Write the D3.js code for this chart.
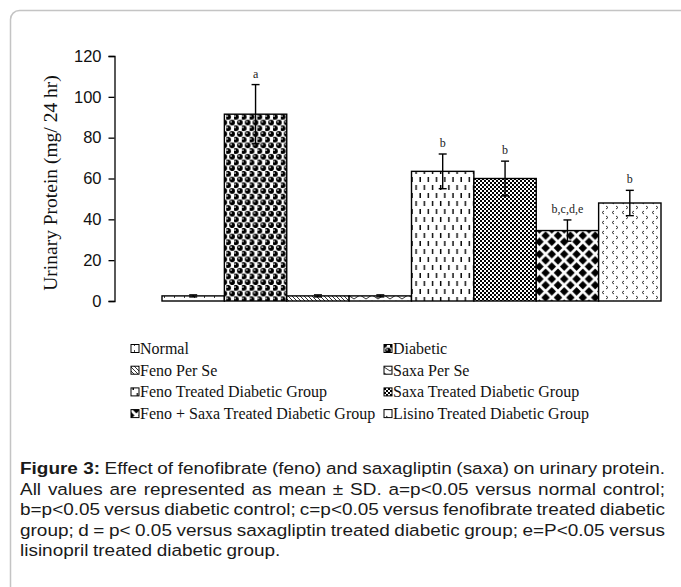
<!DOCTYPE html>
<html>
<head>
<meta charset="utf-8">
<script src="https://cdn.jsdelivr.net/npm/d3@7"></script>
<style>
  body { margin: 0; background: #fff; }
  svg { display: block; }
</style>
</head>
<body>
<svg width="681" height="587"></svg>
<script>
// Data
let groups = ["Normal", "Diabetic", "Feno Per Se", "Saxa Per Se",
  "Feno Treated Diabetic Group", "Saxa Treated Diabetic Group",
  "Feno + Saxa Treated Diabetic Group", "Lisino Treated Diabetic Group"];
let means = [2.5, 91.5, 2.5, 2.5, 63.5, 60, 34.5, 48];
let sds = [0.5, 14.5, 0.5, 0.5, 8.5, 8.5, 5.2, 6.2];
let marks = ["", "a", "", "", "b", "b", "b,c,d,e", "b"];
let yTicks = [0, 20, 40, 60, 80, 100, 120];
let caption = [
  "Effect of fenofibrate (feno) and saxagliptin (saxa) on urinary protein.",
  "All values are represented as mean ± SD. a=p<0.05 versus normal control;",
  "b=p<0.05 versus diabetic control; c=p<0.05 versus fenofibrate treated diabetic",
  "group; d = p< 0.05 versus saxagliptin treated diabetic group; e=P<0.05 versus",
  "lisinopril treated diabetic group."
];

let svg = d3.select("svg");

// Frame
svg.append("rect")
  .attr("x", 10.5).attr("y", 10.5)
  .attr("width", 700).attr("height", 620)
  .attr("rx", 9)
  .attr("fill", "#fff")
  .attr("stroke", "#c4c4c4")
  .attr("stroke-width", 1.5);

// Patterns
let defs = svg.append("defs");
function pattern(id, w, h) {
  let p = defs.append("pattern")
    .attr("id", id)
    .attr("patternUnits", "userSpaceOnUse")
    .attr("width", w).attr("height", h);
  p.append("rect").attr("width", w).attr("height", h).attr("fill", "#fff");
  return p;
}

// normal: sparse tiny ticks
let p0 = pattern("p0", 10, 6);
p0.append("rect").attr("x", 4).attr("y", 2).attr("width", 1).attr("height", 2).attr("fill", "#444");

// diabetic: black spheres
let p1 = pattern("p1", 7.8, 11.4);
[[1.95, 2.85], [5.85, 8.55], [-1.95, 8.55], [9.75, 8.55]].forEach(c => {
  p1.append("circle").attr("cx", c[0]).attr("cy", c[1]).attr("r", 2.9).attr("fill", "#000");
  p1.append("circle").attr("cx", c[0] - 0.9).attr("cy", c[1] - 0.9).attr("r", 0.8).attr("fill", "#fff");
});

// feno per se: diagonal hatch
let p2 = pattern("p2", 4, 4);
p2.append("path").attr("d", "M-1,-1L5,5M-1,3L1,5M3,-1L5,1").attr("stroke", "#000").attr("stroke-width", 0.8);

// saxa per se: zigzag
let p3 = pattern("p3", 12, 6);
p3.append("path").attr("d", "M0,1L6,5L12,1").attr("fill", "none").attr("stroke", "#000").attr("stroke-width", 0.8);

// feno treated: vertical dashes
let p4 = pattern("p4", 8.2, 16);
p4.append("path").attr("d", "M2,1V6M6.1,9V14").attr("stroke", "#000").attr("stroke-width", 1.4);

// saxa treated: fine checker
let p5 = pattern("p5", 4, 4);
p5.append("rect").attr("x", 0).attr("y", 0).attr("width", 2).attr("height", 2).attr("fill", "#000");
p5.append("rect").attr("x", 2).attr("y", 2).attr("width", 2).attr("height", 2).attr("fill", "#000");

// feno + saxa: diamonds
let p6 = pattern("p6", 12.4, 12.4);
[[6.2, 6.2], [0, 0], [12.4, 0], [0, 12.4], [12.4, 12.4]].forEach(c => {
  p6.append("path")
    .attr("d", `M${c[0]},${c[1] - 4.3}L${c[0] + 4.3},${c[1]}L${c[0]},${c[1] + 4.3}L${c[0] - 4.3},${c[1]}Z`)
    .attr("fill", "#000");
});

// lisino: chevrons
let p7 = pattern("p7", 10, 10);
p7.append("path").attr("d", "M4,1L2,2.5L4,4M6,6L8,7.5L6,9")
  .attr("fill", "none").attr("stroke", "#333").attr("stroke-width", 1);

let fills = ["p0", "p1", "p2", "p3", "p4", "p5", "p6", "p7"];

// Scales
let x = d3.scaleBand().domain(groups).range([162, 661]).padding(0);
let y = d3.scaleLinear().domain([0, 120]).range([301, 56]);

// Y axis
let yAxis = svg.append("g")
  .attr("transform", "translate(114.5,0)")
  .call(d3.axisLeft(y).tickValues(yTicks).tickSize(6).tickPadding(7));
yAxis.select(".domain").attr("stroke", "#000").attr("stroke-width", 1.3);
yAxis.selectAll(".tick line").attr("stroke", "#000").attr("stroke-width", 1.3);
yAxis.selectAll(".tick text")
  .attr("font-family", "Liberation Sans, Arial, sans-serif")
  .attr("font-size", 16.5)
  .attr("fill", "#111");

svg.append("text")
  .attr("transform", "translate(57,183) rotate(-90)")
  .attr("text-anchor", "middle")
  .attr("font-family", "Liberation Serif, Times New Roman, serif")
  .attr("font-size", 19.5)
  .attr("fill", "#111")
  .text("Urinary Protein (mg/ 24 hr)");

// Bars
svg.append("g").selectAll("rect")
  .data(groups)
  .join("rect")
  .attr("x", d => x(d))
  .attr("y", (d, i) => y(means[i]))
  .attr("width", x.bandwidth())
  .attr("height", (d, i) => y(0) - y(means[i]))
  .attr("fill", (d, i) => `url(#${fills[i]})`)
  .attr("stroke", "#000")
  .attr("stroke-width", 1.4);

// Error bars
let eb = svg.append("g").attr("stroke", "#000").attr("stroke-width", 1.4);
groups.forEach((g, i) => {
  let cx = x(g) + x.bandwidth() / 2;
  let lo = y(means[i] - sds[i]), hi = y(means[i] + sds[i]);
  eb.append("line").attr("x1", cx).attr("x2", cx).attr("y1", lo).attr("y2", hi);
  eb.append("line").attr("x1", cx - 4).attr("x2", cx + 4).attr("y1", hi).attr("y2", hi);
  eb.append("line").attr("x1", cx - 4).attr("x2", cx + 4).attr("y1", lo).attr("y2", lo);
});

// Significance letters
svg.append("g").selectAll("text")
  .data(groups)
  .join("text")
  .attr("x", d => x(d) + x.bandwidth() / 2)
  .attr("y", (d, i) => y(means[i] + sds[i]) - 7)
  .attr("text-anchor", "middle")
  .attr("font-family", "Liberation Serif, Times New Roman, serif")
  .attr("font-size", 12)
  .attr("fill", "#222")
  .text((d, i) => marks[i]);

// Legend
let leg = svg.append("g");
groups.forEach((g, i) => {
  let col = i % 2, row = Math.floor(i / 2);
  let lx = col === 0 ? 131 : 384;
  let ly = 349 + row * 21.7;
  leg.append("rect")
    .attr("x", lx).attr("y", ly - 4.5)
    .attr("width", 8).attr("height", 8)
    .attr("fill", `url(#${fills[i]})`)
    .attr("stroke", "#000").attr("stroke-width", 1);
  leg.append("text")
    .attr("x", lx + 9).attr("y", ly + 5)
    .attr("font-family", "Liberation Serif, Times New Roman, serif")
    .attr("font-size", 16)
    .attr("fill", "#111")
    .text(g);
});

// Caption, justified; glyphs stretched so the first line sets with normal spaces
let capLeft = 20, capRight = 665, capTop = 474, capStep = 20.6, normalGap = 4.6;
let capFont = "Liberation Sans, Arial, sans-serif";
let capLines = caption.map((line, li) => {
  let parts = [];
  if (li === 0) parts.push({ t: "Figure 3:", bold: true });
  line.split(" ").forEach(w => parts.push({ t: w, bold: false }));
  let nodes = parts.map(p => svg.append("text")
    .attr("y", capTop + li * capStep)
    .attr("font-family", capFont)
    .attr("font-size", 16.8)
    .attr("font-weight", p.bold ? "bold" : "normal")
    .attr("fill", "#1a1a1a")
    .text(p.t));
  return { nodes, widths: nodes.map(n => n.node().getComputedTextLength()) };
});
let first = capLines[0];
let stretch = (capRight - capLeft - normalGap * (first.nodes.length - 1)) / d3.sum(first.widths);
capLines.forEach((L, li) => {
  let w = L.widths.map(v => v * stretch);
  let last = li === capLines.length - 1;
  let gap = last ? normalGap : (capRight - capLeft - d3.sum(w)) / (L.nodes.length - 1);
  let cx = capLeft;
  L.nodes.forEach((n, k) => {
    n.attr("x", cx).attr("textLength", w[k]).attr("lengthAdjust", "spacingAndGlyphs");
    cx += w[k] + gap;
  });
});
</script>
</body>
</html>
